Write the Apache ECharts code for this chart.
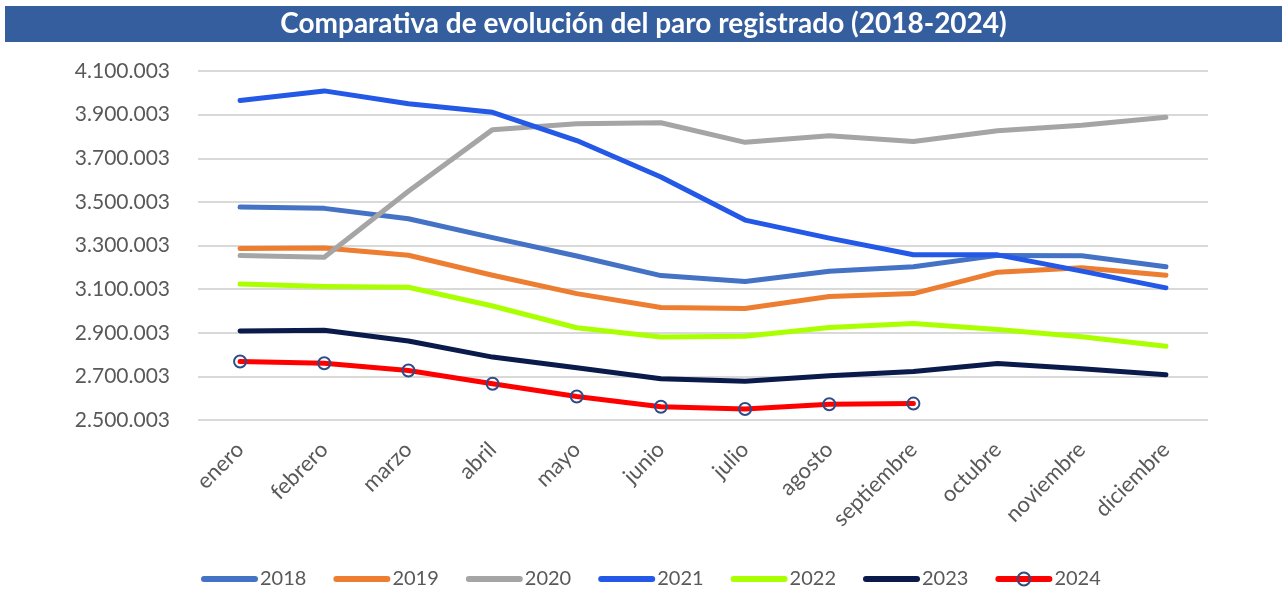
<!DOCTYPE html>
<html>
<head>
<meta charset="utf-8">
<script src="https://cdn.jsdelivr.net/npm/echarts@6/dist/echarts.min.js"></script>
<style>
html,body{margin:0;padding:0;background:#fff;}
#chart{width:1287px;height:589px;}
</style>
</head>
<body>
<div id="chart"></div>
<script>
const titleText = 'Comparativa de evolución del paro registrado (2018-2024)';
const months = ['enero','febrero','marzo','abril','mayo','junio','julio','agosto','septiembre','octubre','noviembre','diciembre'];
const years = ['2018','2019','2020','2021','2022','2023','2024'];
const v2018 = [3476528,3470248,3422551,3335868,3252130,3162162,3135021,3182068,3202509,3254703,3252867,3202297];
const v2019 = [3285761,3289040,3255084,3163566,3079491,3015686,3011433,3065804,3079711,3177659,3198184,3163605];
const v2020 = [3253853,3246047,3548312,3831203,3857776,3862883,3773034,3802814,3776485,3826043,3851312,3888137];
const v2021 = [3964353,4008789,3949640,3910628,3781250,3614339,3416498,3333915,3257802,3257068,3182687,3105905];
const v2022 = [3123078,3111684,3108763,3022503,2922991,2880582,2883812,2924240,2941919,2914892,2881380,2837653];
const v2023 = [2908397,2911015,2862260,2788370,2739110,2688842,2677874,2702700,2722468,2759404,2734831,2707456];
const v2024 = [2767860,2760408,2727003,2666500,2607850,2561067,2550237,2572121,2575285];
const yMin = 2500003, yMax = 4100003, yStep = 200000;

const colors = ['#4472C4','#ED7D31','#A5A5A5','#2359E6','#AAFF00','#0A1A4B','#FF0000'];
const markerBorder = '#2E4C86';
const values = [v2018,v2019,v2020,v2021,v2022,v2023,v2024];
const FONT = 'Lato, "Open Sans", sans-serif';

function fmt(v){
  return String(Math.round(v)).replace(/\B(?=(\d{3})+(?!\d))/g, '.');
}

const series = years.map((y, i) => {
  const last = i === years.length - 1;
  return {
    name: y,
    type: 'line',
    data: values[i],
    smooth: false,
    symbol: last ? 'circle' : 'none',
    symbolSize: 12,
    showSymbol: last,
    lineStyle: { color: colors[i], width: 5, cap: 'round', join: 'round' },
    itemStyle: last ? { color: 'rgba(0,0,0,0)', borderColor: markerBorder, borderWidth: 2 } : { color: colors[i] },
    emphasis: { disabled: true },
    z: 2 + i
  };
});

const legendData = years.map((y, i) => {
  const last = i === years.length - 1;
  return {
    name: y,
    lineStyle: { color: colors[i], width: 6, cap: 'round' },
    itemStyle: last ? { color: 'rgba(0,0,0,0)', borderColor: markerBorder, borderWidth: 2 } : { opacity: 0 }
  };
});

const chart = echarts.init(document.getElementById('chart'), null, { renderer: 'canvas' });
chart.setOption({
  animation: false,
  backgroundColor: '#ffffff',
  graphic: [{
    type: 'rect',
    left: 5, top: 6,
    shape: { width: 1277, height: 36 },
    style: { fill: '#355E9E' },
    z: 0
  }],
  title: {
    text: titleText,
    left: 'center',
    top: 6,
    padding: 0,
    textStyle: { color: '#ffffff', fontSize: 28, fontWeight: 'bold', fontFamily: FONT, lineHeight: 36 }
  },
  legend: {
    data: legendData,
    top: 564,
    left: 196,
    padding: 5,
    itemWidth: 51,
    itemHeight: 16,
    itemGap: 27,
    textStyle: { color: '#595959', fontSize: 20, fontFamily: FONT },
    selectedMode: false
  },
  grid: { left: 198, right: 79, top: 71, bottom: 169, containLabel: false },
  xAxis: {
    type: 'category',
    data: months,
    boundaryGap: true,
    axisLine: { show: false },
    axisTick: { show: false },
    axisLabel: { rotate: 45, margin: 26, color: '#595959', fontSize: 22, fontFamily: FONT, interval: 0 }
  },
  yAxis: {
    type: 'value',
    min: yMin,
    max: yMax,
    interval: yStep,
    axisLine: { show: false },
    axisTick: { show: false },
    splitLine: { lineStyle: { color: '#D9D9D9', width: 2 } },
    axisLabel: { margin: 28, color: '#595959', fontSize: 21, fontFamily: FONT, formatter: fmt }
  },
  series: series
});
</script>
</body>
</html>
